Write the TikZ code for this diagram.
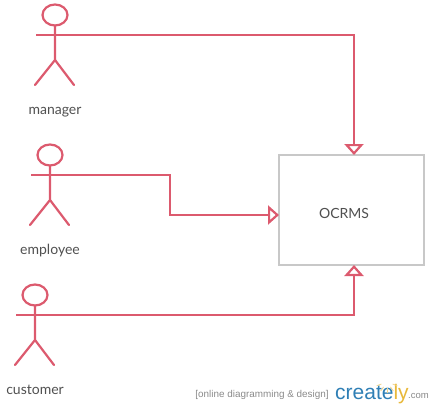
\documentclass[tikz,border=0pt]{standalone}
\usepackage{fontspec}
\setmainfont{Lato}
\newfontfamily\wmfont{Liberation Sans}
\usetikzlibrary{arrows.meta}
\definecolor{actorred}{HTML}{DC5A6E}
\definecolor{boxgrey}{HTML}{C8C8C8}
\definecolor{labelgrey}{HTML}{505050}
\definecolor{wmgrey}{HTML}{8A8A8A}
\definecolor{wmblue}{HTML}{2F7FB5}
\definecolor{wmyellow}{HTML}{E8B83A}
\tikzset{
  actorline/.style={draw=actorred,line width=2.2pt,line cap=round},
  actorhead/.style={draw=actorred,line width=2.2pt},
  assoc/.style={draw=actorred,line width=2.2pt,-{Triangle[open,length=11pt,width=19pt,fill=white]}},
  lbl/.style={text=labelgrey,font=\fontsize{14}{16}\selectfont,inner sep=0pt},
  sysbox/.style={draw=boxgrey,line width=2pt,fill=white,minimum width=145pt,minimum height=110pt,inner sep=0pt},
}
\newcommand{\stick}[4]{% name, x, y(head centre), label
  \draw[actorhead] (#2,#3) ellipse [x radius=12.5,y radius=10.5];
  \draw[actorline] (#2,#3+10.5) -- (#2,#3+45) -- (#2-20,#3+70);
  \draw[actorline] (#2,#3+45) -- (#2+19,#3+70);
  \coordinate (#1) at (#2-19,#3+20);
  \node[lbl,anchor=base] (#1label) at (#2,#3+99) {#4};
}
\begin{document}
\begin{tikzpicture}[x=1pt,y=-1pt]
\useasboundingbox (0,0) rectangle (433,410);
\node[sysbox] (box) at (351.5,210) {};
\node[lbl] (sysname) at (344,213) {OCRMS};
\coordinate (boxtop) at (354,155);
\coordinate (boxleft) at (279,215);
\coordinate (boxbottom) at (354,265);
\stick{manager}{55}{15}{manager}
\stick{employee}{50}{155}{employee}
\stick{customer}{35}{295}{customer}
\draw[assoc] (manager) -| (boxtop);
\coordinate (bend1) at (170,175);
\coordinate (bend2) at (170,215);
\draw[assoc] (employee) -- (bend1) -- (bend2) -- (boxleft);
\draw[assoc] (customer) -| (boxbottom);
\node[text=wmgrey,font=\wmfont\fontsize{9.9}{11}\selectfont,inner sep=0pt] (wm) at (262,394.5) {[online diagramming \& design]};
\node[anchor=west,inner sep=0pt,font=\wmfont\fontsize{21}{24}\selectfont] (logo) at (335,394) {\textcolor{wmblue}{create}\textcolor{wmyellow}{ly}};
\node[anchor=west,inner sep=0pt,text=wmgrey,font=\wmfont\fontsize{9.5}{10}\selectfont] (com) at (408,396) {.com};
\foreach \a in {200,235,270,305,340}
  \draw[wmyellow!60,line width=0.8pt] (387,382)++(\a:-6) -- ++(\a:-5);
\end{tikzpicture}
\end{document}
